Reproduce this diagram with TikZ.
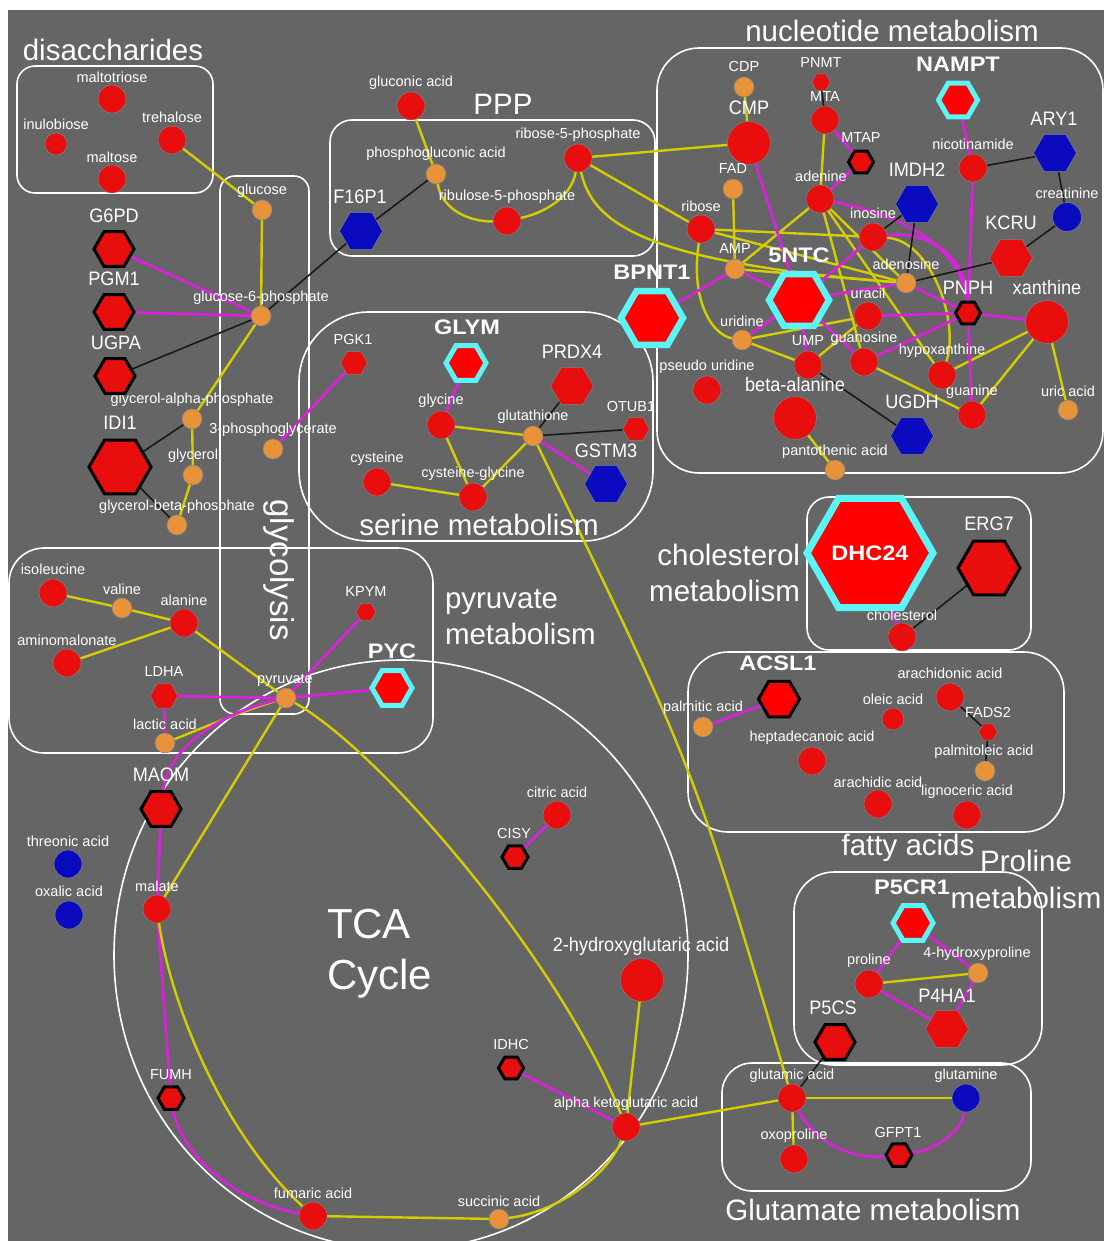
\documentclass[tikz,border=0pt]{standalone}
\usepackage{fontspec}
\setmainfont{Liberation Sans}
\newfontfamily\narrowf[FakeStretch=0.93]{Liberation Sans}
\newfontfamily\widef[FakeStretch=1.12]{Liberation Sans}
\usetikzlibrary{shapes.geometric}
\pgfdeclarelayer{bglayer}
\pgfdeclarelayer{edgelayer}
\pgfsetlayers{bglayer,edgelayer,main}
\definecolor{bgg}{RGB}{101,101,101}
\definecolor{cred}{RGB}{232,14,14}
\definecolor{pred}{RGB}{255,0,0}
\definecolor{corg}{RGB}{232,146,58}
\definecolor{cblu}{RGB}{10,10,190}
\definecolor{cyel}{RGB}{212,206,0}
\definecolor{cmag}{RGB}{216,36,216}
\definecolor{ccyn}{RGB}{92,245,245}
\definecolor{cbrd}{RGB}{120,135,140}
\definecolor{cblk}{RGB}{25,25,25}
\tikzset{
 every node/.style={inner sep=0pt, outer sep=0pt},
 rc/.style={circle, fill=cred, draw=cbrd, line width=0.5pt, minimum size=#1pt},
 rc/.default=28,
 oc/.style={circle, fill=corg, draw=cbrd, line width=0.5pt, minimum size=20pt},
 bc/.style={circle, fill=cblu, draw=cbrd, line width=0.5pt, minimum size=#1pt},
 bc/.default=28,
 hexa/.style={regular polygon, regular polygon sides=6, minimum size=#1pt},
 rh/.style={hexa=#1, fill=cred, draw=cbrd, line width=0.5pt},
 kh/.style={hexa=#1, fill=cred, draw=black, line width=3pt},
 bh/.style={hexa=#1, fill=cblu, draw=cbrd, line width=0.5pt},
 ch/.style={hexa=#1, fill=pred, draw=ccyn, line width=5pt},
 lb/.style={text=white, font=\fontsize{14.5}{16}\selectfont},
 lbL/.style={text=white, font=\narrowf\fontsize{19.5}{22}\selectfont},
 lbB/.style={text=white, font=\widef\bfseries\fontsize{21}{24}\selectfont},
 ttl/.style={text=white, font=\fontsize{29.5}{36}\selectfont},
 grp/.style={draw=white, line width=1.6pt, rounded corners=#1pt},
 ye/.style={draw=cyel, line width=2.4pt},
 me/.style={draw=cmag, line width=2.8pt},
 ke/.style={draw=cblk, line width=1.6pt},
}
\begin{document}
\begin{tikzpicture}[x=1pt,y=-1pt]
\useasboundingbox (0,0) rectangle (1104,1241);
\begin{pgfonlayer}{bglayer}
\fill[white] (0,0) rectangle (1104,1241);
\fill[bgg] (8,10) rectangle (1104,1241);
\draw[grp=18] (17,66) rectangle (213,193);
\draw[grp=15] (220,176) rectangle (309,714);
\draw[grp=22] (330,120) rectangle (655,256);
\draw[grp=42] (657,48) rectangle (1103,473);
\draw[grp=70] (299,312) rectangle (653,541);
\draw[grp=35] (9,548) rectangle (433,753);
\draw[grp=22] (807,497) rectangle (1031,650);
\draw[grp=40] (688,652) rectangle (1064,832);
\draw[grp=40] (794,872) rectangle (1042,1065);
\draw[grp=30] (722,1063) rectangle (1031,1191);
\draw[draw=white, line width=1.6pt] (401,955) ellipse [x radius=287pt, y radius=295pt];
\end{pgfonlayer}

% titles
\node[ttl] (t-dis) at (113,50) {disaccharides};
\node[ttl] (t-ppp) at (503,104) {PPP};
\node[ttl] (t-nuc) at (892,31) {nucleotide metabolism};
\node[ttl] (t-ser) at (479,525) {serine metabolism};
\node[ttl, rotate=-90, font=\fontsize{33}{36}\selectfont] (t-gly) at (279,570) {glycolysis};
\node[ttl, anchor=west, align=left] (t-pyr) at (445,617) {pyruvate\\metabolism};
\node[ttl, anchor=east, align=right] (t-cho) at (800,573) {cholesterol\\metabolism};
\node[ttl] (t-fat) at (908,848) {fatty acids};
\node[ttl, align=center, font=\fontsize{29.5}{37}\selectfont] (t-pro) at (1026,879) {Proline\\metabolism};
\node[ttl] (t-glu) at (873,1210) {Glutamate metabolism};
\node[text=white, anchor=west, align=left, font=\fontsize{42}{51}\selectfont] (t-tca) at (327,954) {TCA\\Cycle};

% disaccharides
\node[rc] (maltotriose) at (112,99) {};
\node[lb] (maltotriose-t) at (112,77) {maltotriose};
\node[rc=22] (inulobiose) at (56,144) {};
\node[lb] (inulobiose-t) at (56,124) {inulobiose};
\node[rc] (trehalose) at (172,140) {};
\node[lb] (trehalose-t) at (172,117) {trehalose};
\node[rc] (maltose) at (112,179) {};
\node[lb] (maltose-t) at (112,157) {maltose};

% glycolysis
\node[oc] (glucose) at (262,210) {};
\node[lb] (glucose-t) at (262,191) {glucose};
\node[oc] (g6p) at (261,316) {};
\node[lb] (g6p-t) at (261,298) {glucose-6-phosphate};
\node[oc] (gap) at (192,419) {};
\node[lb] (gap-t) at (192,400) {glycerol-alpha-phosphate};
\node[oc] (pg3) at (273,449) {};
\node[lb] (pg3-t) at (273,430) {3-phosphoglycerate};
\node[oc] (glycerol) at (193,475) {};
\node[lb] (glycerol-t) at (193,456) {glycerol};
\node[oc] (gbp) at (177,525) {};
\node[lb] (gbp-t) at (177,507) {glycerol-beta-phosphate};
\node[kh=40] (G6PD) at (114,249) {};
\node[lbL] (G6PD-t) at (114,216) {G6PD};
\node[kh=40] (PGM1) at (114,312) {};
\node[lbL] (PGM1-t) at (114,279) {PGM1};
\node[kh=40] (UGPA) at (115,376) {};
\node[lbL] (UGPA-t) at (116,343) {UGPA};
\node[kh=62] (IDI1) at (120,467) {};
\node[lbL] (IDI1-t) at (120,423) {IDI1};

% PPP
\node[rc] (gluconic) at (411,106) {};
\node[lb] (gluconic-t) at (411,83) {gluconic acid};
\node[oc] (pga) at (436,174) {};
\node[lb] (pga-t) at (436,154) {phosphogluconic acid};
\node[rc] (r5p) at (578,158) {};
\node[lb] (r5p-t) at (578,135) {ribose-5-phosphate};
\node[rc] (ru5p) at (507,221) {};
\node[lb] (ru5p-t) at (507,197) {ribulose-5-phosphate};
\node[bh=43] (F16P1) at (361,231) {};
\node[lbL] (F16P1-t) at (360,197) {F16P1};

% nucleotide
\node[oc] (CDP) at (744,87) {};
\node[lb] (CDP-t) at (744,67) {CDP};
\node[rc=43] (CMP) at (749,143) {};
\node[lbL] (CMP-t) at (749,108) {CMP};
\node[rh=19] (PNMT) at (821,82) {};
\node[lb] (PNMT-t) at (821,63) {PNMT};
\node[rc] (MTA) at (825,120) {};
\node[lb] (MTA-t) at (825,97) {MTA};
\node[kh=25] (MTAP) at (861,162) {};
\node[lb] (MTAP-t) at (861,138) {MTAP};
\node[ch=39] (NAMPT) at (958,100) {};
\node[lbB] (NAMPT-t) at (958,64) {NAMPT};
\node[rc] (nicotinamide) at (973,168) {};
\node[lb] (nicotinamide-t) at (973,144) {nicotinamide};
\node[bh=43] (ARY1) at (1055,153) {};
\node[lbL] (ARY1-t) at (1054,119) {ARY1};
\node[oc] (FAD) at (733,189) {};
\node[lb] (FAD-t) at (733,169) {FAD};
\node[rc] (adenine) at (820,199) {};
\node[lb] (adenine-t) at (821,176) {adenine};
\node[bh=43] (IMDH2) at (917,204) {};
\node[lbL] (IMDH2-t) at (917,170) {IMDH2};
\node[bc=29] (creatinine) at (1067,217) {};
\node[lb] (creatinine-t) at (1067,193) {creatinine};
\node[rc] (ribose) at (701,229) {};
\node[lb] (ribose-t) at (701,206) {ribose};
\node[rc] (inosine) at (873,237) {};
\node[lb] (inosine-t) at (873,213) {inosine};
\node[rh=43] (KCRU) at (1011,258) {};
\node[lbL] (KCRU-t) at (1011,223) {KCRU};
\node[oc] (AMP) at (735,269) {};
\node[lb] (AMP-t) at (735,249) {AMP};
\node[ch=60, line width=6.5pt] (NTC) at (799,300) {};
\node[lbB] (NTC-t) at (799,255) {5NTC};
\node[oc] (adenosine) at (906,283) {};
\node[lb] (adenosine-t) at (906,264) {adenosine};
\node[ch=62, line width=6.5pt] (BPNT1) at (652,318) {};
\node[lbB] (BPNT1-t) at (652,272) {BPNT1};
\node[rc] (uracil) at (868,316) {};
\node[lb] (uracil-t) at (868,293) {uracil};
\node[kh=25] (PNPH) at (968,313) {};
\node[lbL] (PNPH-t) at (968,288) {PNPH};
\node[rc=43] (xanthine) at (1047,322) {};
\node[lbL] (xanthine-t) at (1047,288) {xanthine};
\node[oc] (uridine) at (742,340) {};
\node[lb] (uridine-t) at (742,321) {uridine};
\node[rc] (UMP) at (808,365) {};
\node[lb] (UMP-t) at (808,341) {UMP};
\node[rc] (guanosine) at (864,362) {};
\node[lb] (guanosine-t) at (864,339) {guanosine};
\node[rc] (hypoxanthine) at (942,375) {};
\node[lb] (hypoxanthine-t) at (942,351) {hypoxanthine};
\node[rc] (pseudouridine) at (707,390) {};
\node[lb] (pseudouridine-t) at (707,367) {pseudo uridine};
\node[rc=43] (betaalanine) at (795,418) {};
\node[lbL] (betaalanine-t) at (795,385) {beta-alanine};
\node[bh=43] (UGDH) at (912,436) {};
\node[lbL] (UGDH-t) at (912,402) {UGDH};
\node[rc] (guanine) at (972,415) {};
\node[lb] (guanine-t) at (972,392) {guanine};
\node[oc] (uric) at (1068,410) {};
\node[lb] (uric-t) at (1068,391) {uric acid};
\node[oc] (pantothenic) at (835,470) {};
\node[lb] (pantothenic-t) at (835,452) {pantothenic acid};

% serine
\node[rh=27] (PGK1) at (354,363) {};
\node[lb] (PGK1-t) at (353,340) {PGK1};
\node[ch=40] (GLYM) at (466,363) {};
\node[lbB] (GLYM-t) at (467,327) {GLYM};
\node[rh=43] (PRDX4) at (572,386) {};
\node[lbL] (PRDX4-t) at (572,352) {PRDX4};
\node[rc] (glycine) at (441,425) {};
\node[lb] (glycine-t) at (441,401) {glycine};
\node[oc] (glutathione) at (533,436) {};
\node[lb] (glutathione-t) at (533,417) {glutathione};
\node[lb] (OTUB1-t) at (631,407) {OTUB1};
\node[rh=27] (OTUB1) at (636,429) {};
\node[bh=43] (GSTM3) at (606,484) {};
\node[lbL] (GSTM3-t) at (606,451) {GSTM3};
\node[rc] (cysteine) at (377,482) {};
\node[lb] (cysteine-t) at (377,459) {cysteine};
\node[rc] (cysgly) at (473,497) {};
\node[lb] (cysgly-t) at (473,474) {cysteine-glycine};

% pyruvate
\node[rc] (isoleucine) at (53,593) {};
\node[lb] (isoleucine-t) at (53,569) {isoleucine};
\node[oc] (valine) at (122,608) {};
\node[lb] (valine-t) at (122,589) {valine};
\node[rc] (alanine) at (184,623) {};
\node[lb] (alanine-t) at (184,600) {alanine};
\node[rc] (aminomalonate) at (67,663) {};
\node[lb] (aminomalonate-t) at (67,640) {aminomalonate};
\node[rh=20] (KPYM) at (366,612) {};
\node[lb] (KPYM-t) at (366,592) {KPYM};
\node[rh=28] (LDHA) at (164,696) {};
\node[lb] (LDHA-t) at (164,672) {LDHA};
\node[ch=40] (PYC) at (392,688) {};
\node[lbB] (PYC-t) at (392,651) {PYC};
\node[oc] (pyruvate) at (286,698) {};
\node[lb] (pyruvate-t) at (285,680) {pyruvate};
\node[oc] (lactic) at (165,743) {};
\node[lb] (lactic-t) at (165,724) {lactic acid};

% TCA
\node[kh=40] (MAOM) at (161,809) {};
\node[lbL] (MAOM-t) at (161,775) {MAOM};
\node[bc] (threonic) at (68,864) {};
\node[lb] (threonic-t) at (68,841) {threonic acid};
\node[bc] (oxalic) at (69,915) {};
\node[lb] (oxalic-t) at (69,891) {oxalic acid};
\node[rc] (malate) at (157,909) {};
\node[lb] (malate-t) at (157,886) {malate};
\node[rc] (citric) at (557,815) {};
\node[lb] (citric-t) at (557,792) {citric acid};
\node[kh=26] (CISY) at (515,857) {};
\node[lb] (CISY-t) at (514,833) {CISY};
\node[rc=43] (hg2) at (642,980) {};
\node[lbL] (hg2-t) at (641,946) {2-hydroxyglutaric acid};
\node[kh=25] (IDHC) at (511,1068) {};
\node[lb] (IDHC-t) at (511,1044) {IDHC};
\node[rc] (akg) at (626,1127) {};
\node[lb] (akg-t) at (626,1104) {alpha ketoglutaric acid};
\node[kh=26] (FUMH) at (171,1098) {};
\node[lb] (FUMH-t) at (171,1075) {FUMH};
\node[rc] (fumaric) at (313,1216) {};
\node[lb] (fumaric-t) at (313,1193) {fumaric acid};
\node[oc] (succinic) at (499,1219) {};
\node[lb] (succinic-t) at (499,1201) {succinic acid};

% cholesterol
\node[ch=103, line width=7pt, lbB] (DHC24) at (870,553) {DHC24};
\node[kh=62] (ERG7) at (989,568) {};
\node[lbL] (ERG7-t) at (989,524) {ERG7};
\node[rc] (cholesterol) at (902,637) {};
\node[lb] (cholesterol-t) at (902,615) {cholesterol};

% fatty acids
\node[kh=41, fill=pred] (ACSL1) at (779,699) {};
\node[lbB] (ACSL1-t) at (778,663) {ACSL1};
\node[oc] (palmitic) at (703,727) {};
\node[lb] (palmitic-t) at (703,708) {palmitic acid};
\node[rc=22] (oleic) at (893,719) {};
\node[lb] (oleic-t) at (893,699) {oleic acid};
\node[rc] (arachidonic) at (950,697) {};
\node[lb] (arachidonic-t) at (950,673) {arachidonic acid};
\node[rh=19] (FADS2) at (988,732) {};
\node[lb] (FADS2-t) at (988,713) {FADS2};
\node[oc] (palmitoleic) at (985,771) {};
\node[lb] (palmitoleic-t) at (984,752) {palmitoleic acid};
\node[rc] (heptadecanoic) at (812,761) {};
\node[lb] (heptadecanoic-t) at (812,738) {heptadecanoic acid};
\node[rc] (arachidic) at (878,804) {};
\node[lb] (arachidic-t) at (878,782) {arachidic acid};
\node[rc] (lignoceric) at (967,815) {};
\node[lb] (lignoceric-t) at (967,792) {lignoceric acid};

% proline
\node[ch=40] (P5CR1) at (913,923) {};
\node[lbB] (P5CR1-t) at (912,887) {P5CR1};
\node[rc] (proline) at (869,984) {};
\node[lb] (proline-t) at (869,961) {proline};
\node[oc] (hp4) at (978,973) {};
\node[lb] (hp4-t) at (977,954) {4-hydroxyproline};
\node[rh=43] (P4HA1) at (947,1029) {};
\node[lbL] (P4HA1-t) at (947,996) {P4HA1};
\node[kh=40] (P5CS) at (835,1042) {};
\node[lbL] (P5CS-t) at (833,1008) {P5CS};

% glutamate
\node[rc] (glutamic) at (792,1098) {};
\node[lb] (glutamic-t) at (792,1076) {glutamic acid};
\node[bc] (glutamine) at (966,1098) {};
\node[lb] (glutamine-t) at (966,1076) {glutamine};
\node[rc] (oxoproline) at (794,1159) {};
\node[lb] (oxoproline-t) at (794,1136) {oxoproline};
\node[kh=26] (GFPT1) at (899,1155) {};
\node[lb] (GFPT1-t) at (898,1132) {GFPT1};

\begin{pgfonlayer}{edgelayer}
% glycolysis / disaccharides
\draw[ye] (trehalose) -- (glucose);
\draw[ye] (glucose) -- (g6p);
\draw[me] (G6PD) -- (g6p);
\draw[me] (PGM1) -- (g6p);
\draw[ke] (UGPA) -- (g6p);
\draw[ke] (F16P1) -- (g6p);
\draw[ke] (F16P1) -- (pga);
\draw[ye] (g6p) -- (gap);
\draw[ye] (gap) -- (glycerol);
\draw[ye] (glycerol) -- (gbp);
\draw[ke] (IDI1) -- (gap);
\draw[ke] (IDI1) -- (gbp);
\draw[me] (PGK1) -- (pg3);
% PPP
\draw[ye] (gluconic) -- (pga);
\draw[ye] (pga) .. controls (442,210) and (470,222) .. (ru5p);
\draw[ye] (ru5p) .. controls (548,212) and (572,195) .. (r5p);
\draw[ye] (r5p) -- (CMP);
\draw[ye] (r5p) -- (ribose);
\draw[ye] (r5p) .. controls (592,222) and (640,262) .. (adenosine);
% nucleotide yellow
\draw[ye] (CDP) -- (CMP);
\draw[ye] (MTA) -- (adenine);
\draw[ye] (FAD) -- (AMP);
\draw[ye] (ribose) -- (inosine);
\draw[ye] (ribose) -- (adenosine);
\draw[ye] (ribose) .. controls (690,300) and (712,335) .. (uridine);
\draw[ye] (adenine) -- (AMP);
\draw[ye] (adenine) -- (adenosine);
\draw[ye] (adenine) -- (hypoxanthine);
\draw[ye] (adenine) -- (guanosine);
\draw[ye] (AMP) -- (adenosine);
\draw[ye] (inosine) .. controls (930,240) and (960,320) .. (hypoxanthine);
\draw[ye] (uridine) -- (uracil);
\draw[ye] (uridine) -- (UMP);
\draw[ye] (UMP) -- (uracil);
\draw[ye] (guanosine) -- (guanine);
\draw[ye] (hypoxanthine) -- (xanthine);
\draw[ye] (guanine) -- (xanthine);
\draw[ye] (xanthine) -- (uric);
\draw[ye] (betaalanine) -- (pantothenic);
% nucleotide magenta
\draw[me] (CMP) -- (NTC);
\draw[me] (MTA) -- (MTAP);
\draw[me] (MTAP) -- (adenine);
\draw[me] (adenine) .. controls (900,215) and (962,245) .. (PNPH);
\draw[me] (inosine) .. controls (935,230) and (968,262) .. (PNPH);
\draw[me] (NAMPT) -- (nicotinamide);
\draw[me] (nicotinamide) -- (PNPH);
\draw[me] (BPNT1) -- (AMP);
\draw[me] (AMP) -- (NTC);
\draw[me] (NTC) -- (inosine);
\draw[me] (NTC) -- (adenosine);
\draw[me] (adenosine) -- (PNPH);
\draw[me] (NTC) -- (uridine);
\draw[me] (NTC) -- (UMP);
\draw[me] (NTC) -- (guanosine);
\draw[me] (uracil) -- (PNPH);
\draw[me] (guanosine) -- (PNPH);
\draw[me] (PNPH) -- (xanthine);
\draw[me] (PNPH) -- (guanine);
% nucleotide black
\draw[ke] (MTA) -- (PNMT);
\draw[ke] (inosine) -- (IMDH2);
\draw[ke] (IMDH2) -- (adenosine);
\draw[ke] (adenosine) -- (KCRU);
\draw[ke] (KCRU) -- (creatinine);
\draw[ke] (nicotinamide) -- (ARY1);
\draw[ke] (ARY1) -- (creatinine);
\draw[ke] (UMP) -- (UGDH);
% serine
\draw[me] (GLYM) -- (glycine);
\draw[ye] (glycine) -- (glutathione);
\draw[ye] (glycine) -- (cysgly);
\draw[ye] (cysteine) -- (cysgly);
\draw[ye] (cysgly) -- (glutathione);
\draw[ke] (PRDX4) -- (glutathione);
\draw[ke] (OTUB1) -- (glutathione);
\draw[me] (glutathione) -- (GSTM3);
\draw[ye] (glutathione) .. controls (694,767) .. (glutamic);
% pyruvate
\draw[ye] (isoleucine) -- (valine);
\draw[ye] (valine) -- (alanine);
\draw[ye] (aminomalonate) -- (alanine);
\draw[ye] (alanine) -- (pyruvate);
\draw[me] (LDHA) -- (pyruvate);
\draw[me] (LDHA) -- (lactic);
\draw[ye] (lactic) .. controls (210,725) and (245,710) .. (pyruvate);
\draw[me] (KPYM) -- (pyruvate);
\draw[me] (PYC) -- (pyruvate);
\draw[me] (pyruvate) .. controls (225,712) and (168,745) .. (MAOM);
\draw[ye] (pyruvate) -- (malate);
\draw[ye] (pyruvate) .. controls (380,750) and (560,960) .. (akg);
% TCA
\draw[me] (MAOM) -- (malate);
\draw[me] (malate) -- (FUMH);
\draw[me] (FUMH) .. controls (180,1150) and (228,1200) .. (fumaric);
\draw[ye] (malate) .. controls (170,1000) and (220,1130) .. (fumaric);
\draw[ye] (fumaric) -- (succinic);
\draw[ye] (succinic) .. controls (560,1212) and (610,1172) .. (akg);
\draw[me] (IDHC) -- (akg);
\draw[ye] (hg2) -- (akg);
\draw[me] (CISY) -- (citric);
\draw[ye] (akg) -- (glutamic);
% cholesterol, fatty acids
\draw[me] (DHC24) -- (cholesterol);
\draw[ke] (ERG7) -- (cholesterol);
\draw[me] (ACSL1) -- (palmitic);
\draw[ke] (arachidonic) -- (FADS2);
\draw[ke] (FADS2) -- (palmitoleic);
% proline, glutamate
\draw[me] (P5CR1) -- (proline);
\draw[me] (P5CR1) -- (hp4);
\draw[ye] (proline) -- (hp4);
\draw[me] (proline) -- (P4HA1);
\draw[me] (P4HA1) -- (hp4);
\draw[ke] (P5CS) -- (glutamic);
\draw[ye] (glutamic) -- (glutamine);
\draw[ye] (glutamic) -- (oxoproline);
\draw[me] (glutamic) .. controls (815,1142) and (850,1160) .. (GFPT1);
\draw[me] (GFPT1) .. controls (935,1150) and (962,1132) .. (glutamine);
\end{pgfonlayer}
\end{tikzpicture}
\end{document}
